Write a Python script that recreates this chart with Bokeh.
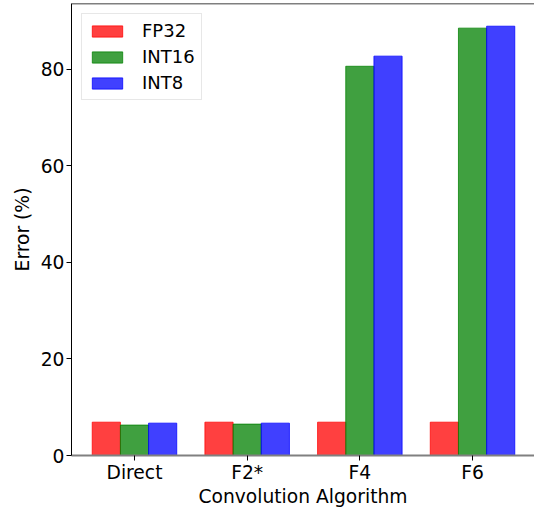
from bokeh.plotting import figure
from bokeh.models import Range1d, FixedTicker, Span, Legend, LegendItem, ColumnDataSource
from bokeh.embed import file_html
from bokeh.resources import INLINE

categories = ["Direct", "F2*", "F4", "F6"]
series = ["FP32", "INT16", "INT8"]
fp32 = [6.9, 6.9, 6.9, 6.9]
int16 = [6.3, 6.5, 80.6, 88.5]
int8 = [6.7, 6.7, 82.7, 88.9]
colors = ["#ff0000", "#008000", "#0000ff"]
y_ticks = [0, 20, 40, 60, 80]

FONT = "DejaVu Sans"
YMAX = 93.6

p = figure(width=534, height=509, output_backend="svg", toolbar_location=None,
           x_range=Range1d(-0.559, 3.55), y_range=Range1d(0, YMAX),
           min_border_left=71, min_border_right=0, min_border_top=3, min_border_bottom=54)
p.outline_line_color = None
p.grid.visible = False
p.background_fill_color = "white"

idx = list(range(len(categories)))
offsets = [-0.25, 0.0, 0.25]
items = []
for vals, name, col, off in zip([fp32, int16, int8], series, colors, offsets):
    src = ColumnDataSource(dict(x=[i + off for i in idx], top=vals))
    r = p.vbar(x="x", top="top", width=0.25, bottom=0, source=src,
               fill_color=col, fill_alpha=0.75, line_color=col, line_alpha=0.75, line_width=1)
    items.append(LegendItem(label=name, renderers=[r]))

legend = Legend(items=items, location="top_left", label_text_font=FONT,
                label_text_font_size="18px", label_text_color="black",
                glyph_width=38, glyph_height=14,
                label_standoff=16, spacing=5, padding=6, margin=10,
                border_line_color="#d0d0d0", border_line_width=1,
                background_fill_alpha=0.8, label_height=20)
p.add_layout(legend, "center")

p.xaxis.ticker = FixedTicker(ticks=idx)
p.xaxis.major_label_overrides = {i: c for i, c in zip(idx, categories)}
p.yaxis.ticker = FixedTicker(ticks=y_ticks)
for ax in (p.xaxis, p.yaxis):
    ax.major_label_text_font = FONT
    ax.major_label_text_font_size = "18.7px"
    ax.major_label_text_color = "black"
    ax.axis_label_text_font = FONT
    ax.axis_label_text_font_size = "18.7px"
    ax.axis_label_text_font_style = "normal"
    ax.axis_label_text_color = "black"
    ax.major_tick_in = 0
    ax.major_tick_out = 5
    ax.minor_tick_line_color = None
    ax.major_tick_line_color = "black"
p.xaxis.axis_label = "Convolution Algorithm"
p.yaxis.axis_label = "Error (%)"
p.xaxis.axis_line_color = "#808080"
p.xaxis.axis_line_width = 2
p.yaxis.axis_line_color = "black"
p.xaxis.major_label_standoff = 1
p.yaxis.major_label_standoff = 2
p.xaxis.axis_label_standoff = 0
p.yaxis.axis_label_standoff = 5

p.add_layout(Span(location=YMAX, dimension="width", line_color="black", line_width=1.5))

open("out.html", "w").write(file_html(p, INLINE))
